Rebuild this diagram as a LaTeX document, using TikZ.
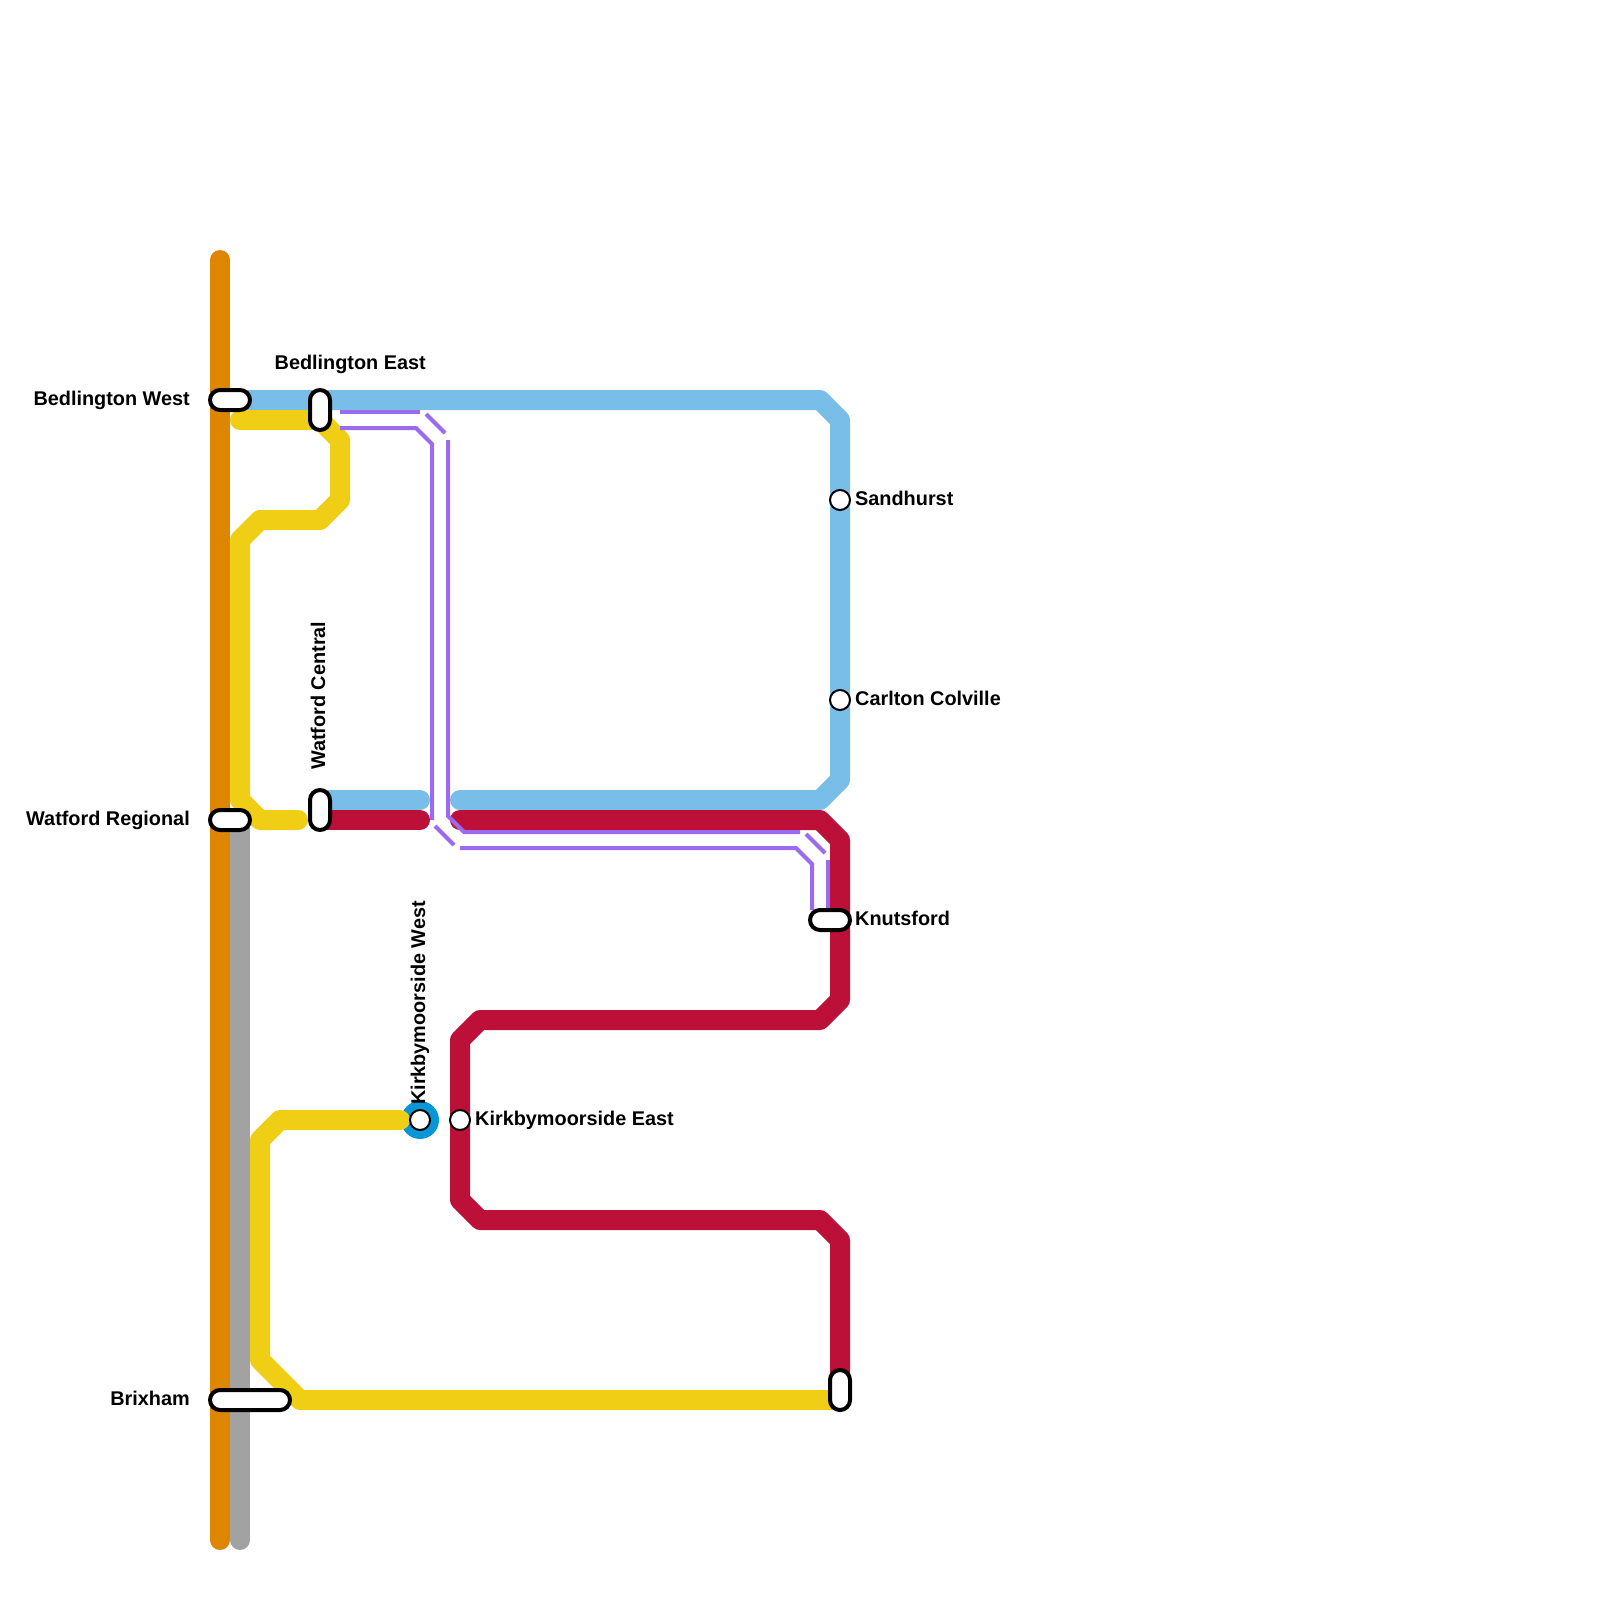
\documentclass[tikz,border=0pt]{standalone}
\usepackage{fontspec}
\setmainfont{Liberation Sans}
\definecolor{cOrange}{HTML}{DF8600}
\definecolor{cGrey}{HTML}{A2A2A2}
\definecolor{cBlue}{HTML}{79BDE9}
\definecolor{cYellow}{HTML}{F0CE15}
\definecolor{cRed}{HTML}{BD1038}
\definecolor{cPurple}{HTML}{9B6AEE}
\definecolor{cCyan}{HTML}{0896D7}
\tikzset{
  rail/.style={line width=20pt,line cap=round,line join=round},
  thin rail/.style={line width=4pt,color=cPurple,line cap=butt,line join=miter},
  pill/.style={draw=black,line width=4pt,fill=white,rounded corners=10pt},
  dot/.style={circle,draw=black,line width=2pt,fill=white,minimum size=20pt,inner sep=0pt},
  lab/.style={font=\bfseries\fontsize{19.85pt}{22pt}\selectfont,inner sep=0pt,text=black}
}
\begin{document}
\begin{tikzpicture}[x=1pt,y=-1pt]
\useasboundingbox (0,0) rectangle (1600,1600);
% main lines
\draw[rail,cGrey] (240,820) -- (240,1540);
\draw[rail,cOrange] (220,260) -- (220,1540);
\fill[cCyan] (420,1120) circle (19pt);
\draw[rail,cBlue] (240,400) -- (820,400) -- (840,420) -- (840,780) -- (820,800) -- (460,800);
\draw[rail,cBlue] (320,800) -- (420,800);
\draw[rail,cRed] (460,820) -- (820,820) -- (840,840) -- (840,1000) -- (820,1020) -- (480,1020) -- (460,1040) -- (460,1200) -- (480,1220) -- (820,1220) -- (840,1240) -- (840,1390);
\draw[rail,cRed] (320,820) -- (420,820);
\draw[rail,cYellow] (240,420) -- (320,420) -- (340,440) -- (340,500) -- (320,520) -- (260,520) -- (240,540) -- (240,800) -- (260,820) -- (298,820);
\draw[rail,cYellow] (400,1120) -- (280,1120) -- (260,1140) -- (260,1360) -- (300,1400) -- (840,1400);
% purple double line
\draw[thin rail] (340,412) -- (420,412);
\draw[thin rail] (340,428) -- (416,428) -- (432,444) -- (432,820);
\draw[thin rail] (426,414) -- (445,433);
\draw[thin rail] (448,440) -- (448,816) -- (464,832) -- (800,832);
\draw[thin rail] (435,826) -- (454,845);
\draw[thin rail] (460,848) -- (796,848) -- (812,864) -- (812,910);
\draw[thin rail] (806,834) -- (825,853);
\draw[thin rail] (828,860) -- (828,910);
% stations
\node[pill,minimum width=40pt,minimum height=20pt,inner sep=0pt] (bw) at (230,400) {};
\node[pill,minimum width=20pt,minimum height=40pt,inner sep=0pt] (be) at (320,410) {};
\node[pill,minimum width=40pt,minimum height=20pt,inner sep=0pt] (wr) at (230,820) {};
\node[pill,minimum width=20pt,minimum height=40pt,inner sep=0pt] (wc) at (320,810) {};
\node[pill,minimum width=80pt,minimum height=20pt,inner sep=0pt] (br) at (250,1400) {};
\node[pill,minimum width=20pt,minimum height=40pt,inner sep=0pt] (end) at (840,1390) {};
\node[pill,minimum width=40pt,minimum height=20pt,inner sep=0pt] (kn) at (830,920) {};
\node[dot] (sa) at (840,500) {};
\node[dot] (cc) at (840,700) {};
\node[dot] (kw) at (420,1120) {};
\node[dot] (ke) at (460,1120) {};
% labels
\node[lab,anchor=base east] (lbw) at (190,405) {Bedlington West};
\node[lab,anchor=base east] (lwr) at (190,825) {Watford Regional};
\node[lab,anchor=base east] (lbr) at (190,1405) {Brixham};
\node[lab,anchor=base west] (lbe) at (274.5,369) {Bedlington East};
\node[lab,anchor=base west,rotate=90] (lwc) at (325,770) {Watford Central};
\node[lab,anchor=base west,rotate=90] (lkw) at (425,1105) {Kirkbymoorside West};
\node[lab,anchor=base west] (lke) at (475,1125) {Kirkbymoorside East};
\node[lab,anchor=base west] (lsa) at (855,505) {Sandhurst};
\node[lab,anchor=base west] (lcc) at (855,705) {Carlton Colville};
\node[lab,anchor=base west] (lkn) at (855,925) {Knutsford};
\end{tikzpicture}
\end{document}
